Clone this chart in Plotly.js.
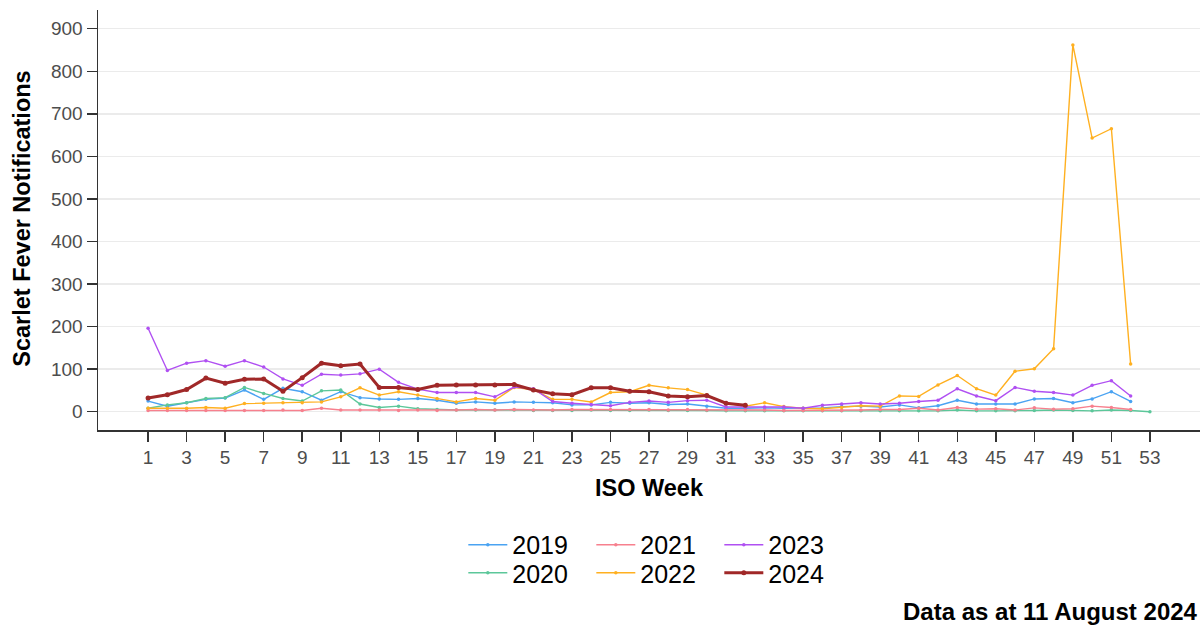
<!DOCTYPE html>
<html>
<head>
<meta charset="utf-8">
<script src="https://cdn.plot.ly/plotly-3.0.1.min.js"></script>
<style>html,body{margin:0;padding:0;background:#fff;}#chart{width:1202px;height:630px;}</style>
</head>
<body>
<div id="chart"></div>
<script>
const years = ["2019", "2020", "2021", "2022", "2023", "2024"];
const colors = ["#4aa3f2", "#5cc79a", "#f7808e", "#ffb020", "#b050f2", "#a02828"];
const xTicks = [1,3,5,7,9,11,13,15,17,19,21,23,25,27,29,31,33,35,37,39,41,43,45,47,49,51,53];
const yTicks = [0,100,200,300,400,500,600,700,800,900];

const v2019 = [25,13,21,29,32,51,29,55,47,27,47,33,30,29,31,27,20,23,20,23,22,21,16,16,22,20,21,17,18,13,8,8,9,8,8,9,12,13,11,16,9,14,27,18,18,18,30,31,21,30,47,24];
const v2020 = [8,16,21,31,33,57,43,31,25,49,51,18,10,13,7,5,4,4,4,4,3,3,3,4,3,3,4,3,3,3,2,2,2,2,2,2,2,2,2,2,2,2,4,2,2,2,3,4,3,2,4,3,0];
const v2021 = [3,3,3,3,3,3,3,4,3,8,4,4,4,3,4,3,4,5,4,5,4,4,5,5,5,5,5,4,5,4,4,4,4,3,3,3,3,4,5,5,8,4,10,6,7,4,9,6,7,13,10,5];
const v2022 = [8,8,8,10,8,19,20,21,21,23,35,56,39,47,39,31,23,31,27,57,52,29,29,23,45,47,62,56,52,39,20,13,21,12,8,7,10,14,13,37,36,63,85,54,39,95,101,148,862,643,665,112];
const v2023 = [196,97,114,120,107,120,105,77,62,88,86,89,100,69,53,45,45,45,35,58,54,24,20,17,14,22,25,22,26,27,11,11,11,11,8,15,18,21,18,20,24,27,54,37,26,57,48,45,39,62,73,37];
const v2024 = [32,40,52,79,67,76,77,48,80,114,108,112,57,57,52,62,63,63,63,64,51,42,40,56,56,48,47,37,35,38,20,15];

const series = [v2019, v2020, v2021, v2022, v2023, v2024];
const legendRank = [1, 4, 2, 5, 3, 6];
const legendName = ["legend", "legend2", "legend", "legend2", "legend", "legend2"];

const FONT = "Liberation Sans, Arial, Helvetica, sans-serif";

const traces = series.map((vals, i) => {
  const isCur = i === 5;
  return {
    type: "scatter",
    mode: "lines+markers",
    name: years[i],
    x: vals.map((_, k) => k + 1),
    y: vals,
    line: {color: colors[i], width: isCur ? 3 : 1.4},
    marker: {color: colors[i], size: isCur ? 5 : 3.5},
    legend: legendName[i],
    legendrank: legendRank[i]
  };
});

const legendCommon = {
  orientation: "h",
  x: 0.3315, xanchor: "left",
  yanchor: "middle",
  entrywidth: 74,
  itemwidth: 39,
  font: {size: 25, family: FONT, color: "#000"},
  bgcolor: "rgba(0,0,0,0)"
};

const layout = {
  width: 1202,
  height: 630,
  margin: {l: 98, r: 2, t: 10, b: 200},
  paper_bgcolor: "#ffffff",
  plot_bgcolor: "#ffffff",
  font: {family: FONT, color: "#000"},
  showlegend: true,
  xaxis: {
    range: [-1.6, 55.6],
    tickvals: xTicks,
    ticktext: xTicks.map(String),
    ticks: "outside",
    ticklen: 10,
    tickwidth: 1.5,
    tickcolor: "#333",
    showline: true,
    linecolor: "#333",
    linewidth: 1.5,
    showgrid: false,
    zeroline: false,
    tickfont: {size: 19, color: "#4d4d4d", family: FONT},
    title: {text: "ISO Week", font: {size: 23.5, color: "#000", family: FONT, weight: "bold"}, standoff: 12}
  },
  yaxis: {
    range: [-43, 944],
    tickvals: yTicks,
    ticktext: yTicks.map(String),
    ticks: "outside",
    ticklen: 10,
    tickwidth: 1.5,
    tickcolor: "#333",
    showline: true,
    linecolor: "#333",
    linewidth: 1.5,
    showgrid: true,
    gridcolor: "#ebebeb",
    gridwidth: 1.5,
    zeroline: false,
    tickfont: {size: 19, color: "#4d4d4d", family: FONT}
  },
  legend: Object.assign({}, legendCommon, {y: -0.2738}),
  legend2: Object.assign({}, legendCommon, {y: -0.3405}),
  annotations: [{
    xref: "paper", yref: "paper",
    x: -0.0687, xanchor: "center",
    y: 0.5036, yanchor: "middle",
    textangle: -90,
    showarrow: false,
    text: "<b>Scarlet Fever Notifications</b>",
    font: {size: 23.5, family: FONT, color: "#000"}
  }, {
    xref: "paper", yref: "paper",
    x: 1, xanchor: "right",
    y: -0.433, yanchor: "middle",
    showarrow: false,
    text: "<b>Data as at 11 August 2024</b>",
    font: {size: 24, family: FONT, color: "#000"}
  }]
};

Plotly.newPlot("chart", traces, layout, {displayModeBar: false, staticPlot: true});
</script>
</body>
</html>
